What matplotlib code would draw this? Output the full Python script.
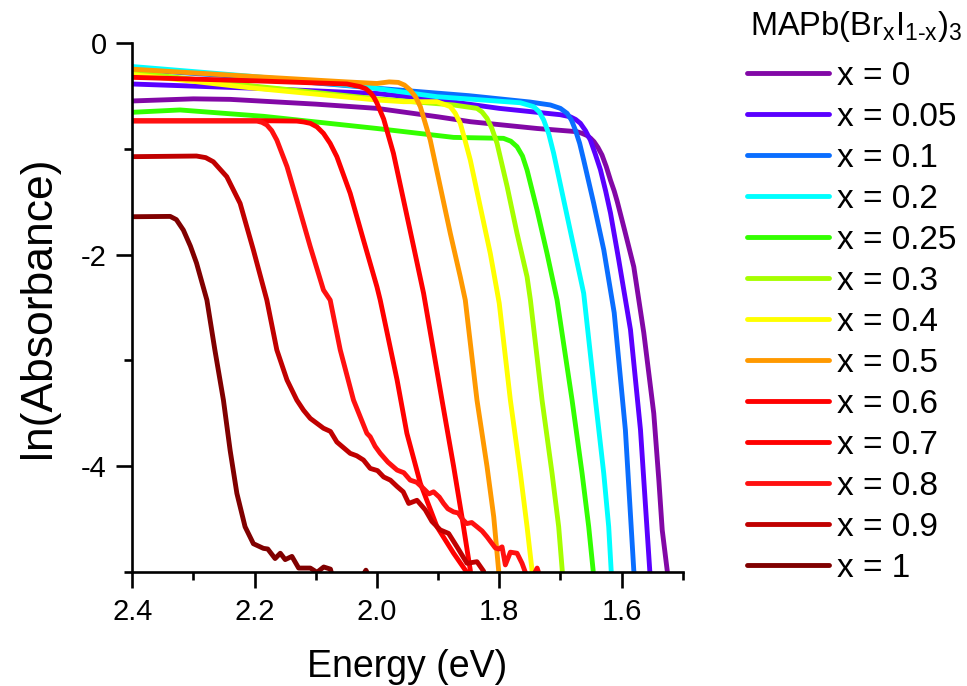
import matplotlib
matplotlib.use('Agg')
import matplotlib.pyplot as plt
from matplotlib.ticker import MultipleLocator

plt.rcParams['font.family'] = ['Liberation Sans', 'DejaVu Sans']
plt.rcParams['axes.unicode_minus'] = False
plt.rcParams['mathtext.fontset'] = 'custom'
plt.rcParams['mathtext.rm'] = 'Liberation Sans'

# composition labels and colours (x in MAPb(BrxI1-x)3)
labels = ['x = 0', 'x = 0.05', 'x = 0.1', 'x = 0.2', 'x = 0.25', 'x = 0.3', 'x = 0.4',
          'x = 0.5', 'x = 0.6', 'x = 0.7', 'x = 0.8', 'x = 0.9', 'x = 1']
colors = ['#8208a6', '#5a00ff', '#0a6eff', '#00ffff', '#33ff00', '#a6ff00', '#ffff00',
          '#ff9900', '#ff0000', '#ff0000', '#ff1010', '#c00000', '#800000']

# energy (eV) / ln(absorbance)
E_00 = [2.40, 2.30, 2.24, 2.10, 2.00, 1.90, 1.847, 1.738, 1.673, 1.665, 1.657, 1.651, 1.645,
        1.6385, 1.632, 1.625, 1.618, 1.612, 1.607, 1.595, 1.58, 1.5636, 1.5473, 1.539, 1.5335,
        1.5254, 1.52]
A_00 = [-0.55, -0.53, -0.535, -0.58, -0.62, -0.70, -0.746, -0.81, -0.84, -0.855, -0.875, -0.90,
        -0.935, -0.99, -1.06, -1.17, -1.30, -1.40, -1.50, -1.77, -2.115, -2.74, -3.50, -4.13,
        -4.60, -4.98, -5.2]

E_005 = [2.40, 2.20, 2.00, 1.90, 1.80, 1.70, 1.6836, 1.675, 1.6673, 1.659, 1.651, 1.643,
         1.6345, 1.626, 1.618, 1.6046, 1.5854, 1.569, 1.5539, 1.55]
A_005 = [-0.39, -0.43, -0.48, -0.54, -0.62, -0.68, -0.70, -0.725, -0.761, -0.83, -0.919, -1.05,
         -1.20, -1.40, -1.61, -2.05, -2.71, -3.657, -4.98, -5.2]

E_01 = [2.40, 2.20, 2.00, 1.85, 1.75, 1.7164, 1.70, 1.689, 1.682, 1.6755, 1.6685, 1.6619,
        1.6455, 1.629, 1.612, 1.5937, 1.58, 1.575]
A_01 = [-0.25, -0.33, -0.43, -0.50, -0.56, -0.588, -0.62, -0.667, -0.73, -0.824, -0.95, -1.108,
        -1.517, -1.957, -2.55, -3.657, -4.98, -5.2]

E_02 = [2.40, 2.20, 2.022, 1.9018, 1.7654, 1.7437, 1.735, 1.7273, 1.719, 1.711, 1.6946,
        1.6782, 1.6619, 1.6427, 1.6291, 1.621, 1.617, 1.615]
A_02 = [-0.225, -0.32, -0.415, -0.51, -0.567, -0.604, -0.65, -0.73, -0.86, -1.044, -1.485,
        -1.926, -2.366, -3.374, -4.066, -4.57, -4.98, -5.2]

E_025 = [2.40, 2.322, 2.1856, 2.00, 1.8746, 1.793, 1.781, 1.7709, 1.762, 1.7545, 1.7381,
         1.7218, 1.7054, 1.6809, 1.6645, 1.6537, 1.6465, 1.644]
A_025 = [-0.657, -0.635, -0.695, -0.81, -0.894, -0.903, -0.93, -0.982, -1.07, -1.202, -1.58,
         -1.99, -2.43, -3.374, -4.066, -4.57, -4.98, -5.2]

E_03 = [2.40, 2.20, 2.00, 1.8746, 1.8364, 1.828, 1.82, 1.812, 1.8036, 1.787, 1.7709, 1.7545,
        1.749, 1.73, 1.7136, 1.7028, 1.697, 1.695]
A_03 = [-0.28, -0.41, -0.53, -0.588, -0.62, -0.655, -0.714, -0.81, -0.95, -1.36, -1.80, -2.21,
        -2.43, -3.374, -4.066, -4.57, -4.98, -5.2]

E_04 = [2.40, 2.20, 2.00, 1.9565, 1.9018, 1.88, 1.872, 1.8637, 1.856, 1.8473, 1.831, 1.8146,
        1.800, 1.7818, 1.7654, 1.7545, 1.7464, 1.744]
A_04 = [-0.30, -0.43, -0.541, -0.557, -0.557, -0.604, -0.665, -0.761, -0.92, -1.108, -1.549,
        -1.99, -2.46, -3.374, -4.066, -4.57, -4.98, -5.2]

E_05 = [2.40, 2.20, 2.05, 2.00, 1.98, 1.965, 1.955, 1.9455, 1.937, 1.929, 1.9128, 1.8964,
        1.88, 1.8637, 1.8555, 1.8364, 1.82, 1.809, 1.801, 1.799]
A_05 = [-0.25, -0.32, -0.37, -0.385, -0.37, -0.375, -0.40, -0.447, -0.51, -0.604, -0.919,
        -1.36, -1.80, -2.21, -2.43, -3.374, -4.0, -4.476, -4.98, -5.2]

E_06 = [2.40, 2.20, 2.049, 2.0273, 2.018, 2.011, 2.005, 2.00, 1.989, 1.973, 1.9565, 1.94,
        1.9237, 1.8936, 1.8746, 1.861, 1.8473, 1.845]
A_06 = [-0.327, -0.36, -0.39, -0.415, -0.435, -0.47, -0.515, -0.57, -0.72, -1.044, -1.485,
        -1.926, -2.366, -3.374, -4.0, -4.476, -4.98, -5.2]

E_07 = [2.40, 2.20, 2.131, 2.12, 2.109, 2.098, 2.0874, 2.0765, 2.0655, 2.0437, 2.022, 2.00,
        1.9946, 1.967, 1.951, 1.929, 1.9018, 1.8746, 1.853, 1.85]
A_07 = [-0.736, -0.736, -0.74, -0.748, -0.761, -0.795, -0.856, -0.95, -1.076, -1.422, -1.863,
        -2.304, -2.43, -3.185, -3.688, -4.16, -4.57, -4.82, -5.0, -5.2]

E_08 = [2.40, 2.196, 2.188, 2.18, 2.172, 2.1637, 2.147, 2.131, 2.109, 2.0874, 2.0764, 2.06,
        2.0383, 2.0164, 2.011, 2.003, 1.9946, 1.982, 1.967, 1.956, 1.9455, 1.935, 1.9237,
        1.915, 1.9074, 1.898, 1.891, 1.884, 1.8746, 1.867, 1.86, 1.853, 1.845, 1.8364, 1.828,
        1.82, 1.8064, 1.8009, 1.7954, 1.79, 1.7818, 1.7709, 1.7627, 1.7573, 1.75, 1.738, 1.73]
A_08 = [-0.74, -0.74, -0.752, -0.777, -0.83, -0.919, -1.17, -1.485, -1.926, -2.335, -2.43,
        -2.90, -3.374, -3.688, -3.72, -3.81, -3.877, -3.96, -4.035, -4.06, -4.13, -4.15, -4.21,
        -4.26, -4.24, -4.29, -4.35, -4.40, -4.43, -4.44, -4.50, -4.54, -4.53, -4.57, -4.61,
        -4.665, -4.77, -4.78, -4.76, -4.93, -4.81, -4.82, -4.915, -5.0, -5.1, -4.96, -5.1]

E_09 = [2.40, 2.295, 2.28, 2.2675, 2.2455, 2.2237, 2.202, 2.18, 2.1637, 2.147, 2.131, 2.12,
        2.109, 2.0874, 2.076, 2.0655, 2.0437, 2.033, 2.022, 2.011, 1.999, 1.989, 1.978, 1.967,
        1.957, 1.948, 1.9345, 1.921, 1.91, 1.8964, 1.8828, 1.869, 1.8527, 1.8364, 1.8255, 1.82]
A_09 = [-1.076, -1.07, -1.085, -1.124, -1.265, -1.517, -1.957, -2.43, -2.90, -3.185, -3.374,
        -3.47, -3.547, -3.64, -3.67, -3.77, -3.877, -3.90, -3.94, -4.019, -4.04, -4.10, -4.13,
        -4.19, -4.24, -4.35, -4.32, -4.41, -4.52, -4.60, -4.633, -4.76, -4.915, -4.90, -4.99,
        -5.2]

E_10 = [2.40, 2.338, 2.328, 2.3165, 2.305, 2.295, 2.278, 2.265, 2.251, 2.24, 2.229, 2.2156,
        2.202, 2.1856, 2.1785, 2.1665, 2.158, 2.15, 2.139, 2.128, 2.109, 2.098, 2.087, 2.076,
        2.07, 2.03, 2.018, 2.008]
A_10 = [-1.643, -1.64, -1.67, -1.769, -1.92, -2.08, -2.43, -2.90, -3.374, -3.85, -4.255, -4.57,
        -4.73, -4.774, -4.78, -4.87, -4.82, -4.88, -4.85, -4.96, -4.96, -5.0, -4.95, -4.97,
        -5.1, -5.1, -4.98, -5.1]

energies = [E_00, E_005, E_01, E_02, E_025, E_03, E_04, E_05, E_06, E_07, E_08, E_09, E_10]
ln_abs = [A_00, A_005, A_01, A_02, A_025, A_03, A_04, A_05, A_06, A_07, A_08, A_09, A_10]

fig = plt.figure(figsize=(9.67, 6.86), dpi=100)
ax = fig.add_axes([132.3 / 967, 1 - 572.3 / 686, 550.4 / 967, 529.6 / 686])

handles = []
for e, a, c, lab in zip(energies, ln_abs, colors, labels):
    ln, = ax.plot(e, a, color=c, lw=3.5, label=lab, solid_capstyle='round',
                  solid_joinstyle='round')
    handles.append(ln)

ax.set_xlim(2.4, 1.5)
ax.set_ylim(-5, 0)
ax.xaxis.set_major_locator(MultipleLocator(0.2))
ax.xaxis.set_minor_locator(MultipleLocator(0.1))
ax.yaxis.set_major_locator(MultipleLocator(2))
ax.yaxis.set_minor_locator(MultipleLocator(1))
ax.xaxis.set_major_formatter(plt.FuncFormatter(lambda v, p: '%.1f' % v))
ax.yaxis.set_major_formatter(plt.FuncFormatter(lambda v, p: '%d' % round(v)))

for s in ['top', 'right']:
    ax.spines[s].set_visible(False)
for s in ['left', 'bottom']:
    ax.spines[s].set_linewidth(1.9)
ax.tick_params(which='major', length=11.5, width=1.9, direction='out', labelsize=21, pad=7)
ax.tick_params(which='minor', length=5.5, width=1.9, direction='out')

ax.set_xlabel('Energy (eV)', fontsize=27)
ax.xaxis.label.set_va('baseline')
ax.xaxis.set_label_coords(0.5, (572.3 - 677) / 529.6)
ax.set_ylabel('ln(Absorbance)', fontsize=32)
ax.yaxis.label.set_va('baseline')
ax.yaxis.set_label_coords((50 - 132.3) / 550.4, 0.5)

fig.text(750 / 967, 1 - 35 / 686,
         r'MAPb(Br$_\mathregular{x}$I$_\mathregular{1\text{-}x}$)$_\mathregular{3}$',
         fontsize=23.5, ha='left', va='baseline')

ax.legend(handles, labels, loc='upper left', bbox_to_anchor=(746.7 / 967, 1 - 61 / 686),
          bbox_transform=fig.transFigure, frameon=False, fontsize=24, handlelength=2.47,
          handletextpad=0.23, labelspacing=0.30, borderpad=0, borderaxespad=0)

fig.savefig('out.png', dpi=100)
